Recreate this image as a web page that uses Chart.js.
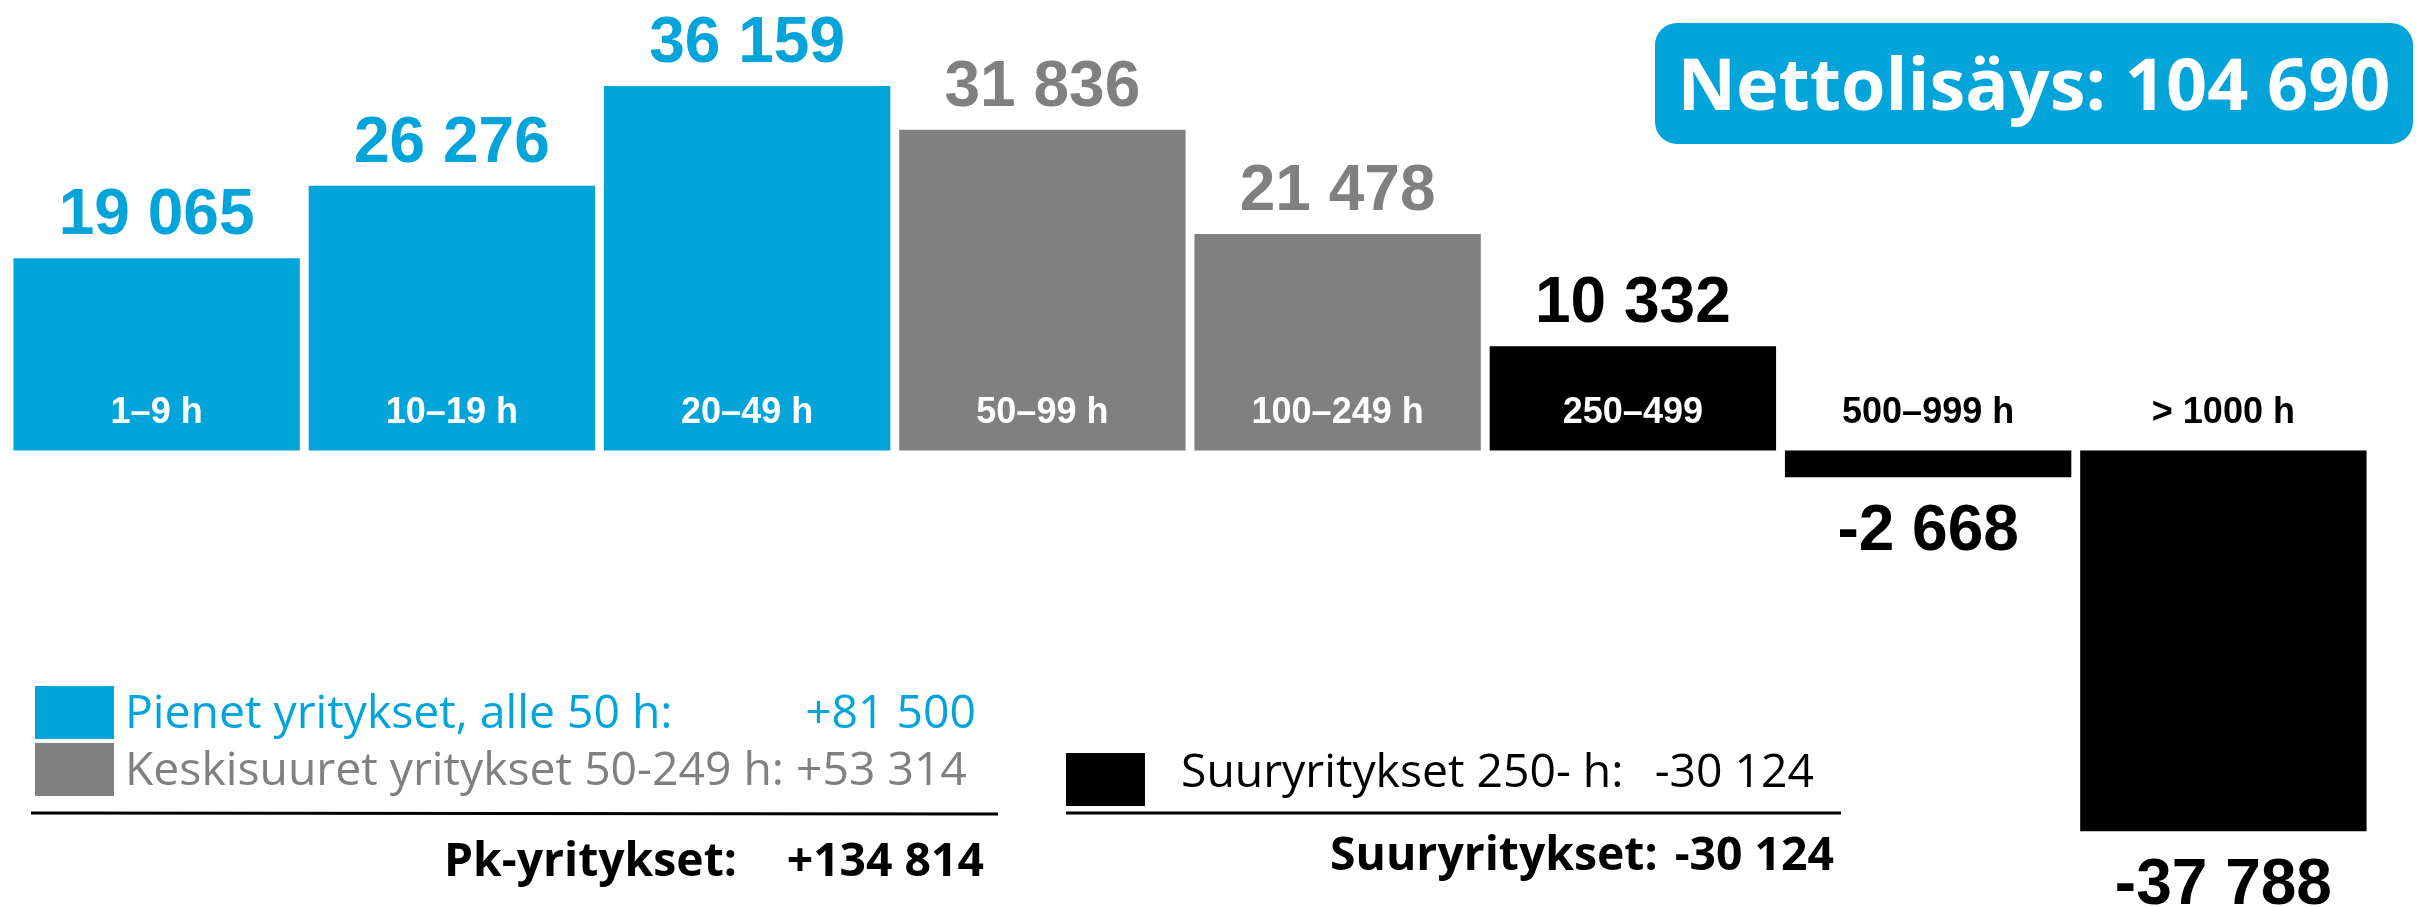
<!DOCTYPE html>
<html lang="fi">
<head>
<meta charset="utf-8">
<title>Nettolisäys henkilöstön kokoluokittain</title>
<script src="https://cdn.jsdelivr.net/npm/chart.js@4/dist/chart.umd.min.js"></script>
<style>
  html, body { margin: 0; padding: 0; background: #fff; }
  #wrap { width: 2418px; height: 907px; position: relative; }
</style>
</head>
<body>
<div id="wrap"><canvas id="chart"></canvas></div>
<script>
// data
const categories = ["1–9 h", "10–19 h", "20–49 h", "50–99 h", "100–249 h", "250–499", "500–999 h", "> 1000 h"];
const netChange = [19065, 26276, 36159, 31836, 21478, 10332, -2668, -37788];
const sizeGroup = ["small", "small", "small", "medium", "medium", "large", "large", "large"];
const groupLabels = {
  small: "Pienet yritykset, alle 50 h:",
  medium: "Keskisuuret yritykset 50-249 h:",
  large: "Suuryritykset 250- h:",
};
const totalLabels = { sme: "Pk-yritykset:", large: "Suuryritykset:", net: "Nettolisäys:" };

const COLORS = { small: "#03A4DA", medium: "#808080", large: "#000000" };
const BAR_FONT = "'Liberation Sans', Arial, sans-serif";
const TEXT_FONT = "'Open Sans', sans-serif";

const fmt = (n, plus) => {
  const s = Math.abs(n).toString().replace(/\B(?=(\d{3})+(?!\d))/g, " ");
  return (n < 0 ? "-" : plus ? "+" : "") + s;
};
const sumOf = g => netChange.reduce((a, v, i) => a + (sizeGroup[i] === g ? v : 0), 0);
const sums = { small: sumOf("small"), medium: sumOf("medium"), large: sumOf("large") };
const smeTotal = sums.small + sums.medium;
const netTotal = netChange.reduce((a, v) => a + v, 0);

/* value labels above / below bars, category labels near the zero line */
const barLabels = {
  id: "barLabels",
  afterDatasetsDraw(chart) {
    const { ctx } = chart;
    const meta = chart.getDatasetMeta(0);
    ctx.save();
    ctx.textAlign = "center";
    ctx.textBaseline = "alphabetic";
    meta.data.forEach((el, i) => {
      const v = netChange[i];
      ctx.font = "bold 64px " + BAR_FONT;
      ctx.fillStyle = COLORS[sizeGroup[i]];
      if (v >= 0) ctx.fillText(fmt(v), el.x, el.y - 24);
      else ctx.fillText(fmt(v), el.x, el.y + 73);
      ctx.font = "bold 36px " + BAR_FONT;
      ctx.fillStyle = v >= 0 ? "#fff" : "#000";
      ctx.fillText(categories[i], el.x, el.base - 27);
    });
    ctx.restore();
  },
};

/* title box and the summary legend */
const summary = {
  id: "summary",
  afterDraw(chart) {
    const { ctx } = chart;
    ctx.save();
    ctx.textBaseline = "alphabetic";

    // net total box
    ctx.fillStyle = COLORS.small;
    ctx.beginPath();
    ctx.roundRect(1655, 23, 758, 121, 22);
    ctx.fill();
    ctx.fillStyle = "#fff";
    ctx.font = "bold 72px " + TEXT_FONT;
    ctx.textAlign = "center";
    ctx.fillText(totalLabels.net + " " + fmt(netTotal), 2034, 110);

    // legend font sized so the grey row spans like the reference (~842px)
    const greyRow = groupLabels.medium + " " + fmt(sums.medium, true);
    ctx.font = "46px " + TEXT_FONT;
    const size = Math.min(48, 46 * 842 / ctx.measureText(greyRow).width);
    ctx.font = size.toFixed(1) + "px " + TEXT_FONT;

    ctx.fillStyle = COLORS.small;
    ctx.fillRect(35, 686, 79, 53);
    ctx.textAlign = "left";
    ctx.fillText(groupLabels.small, 125, 728);
    ctx.textAlign = "right";
    ctx.fillText(fmt(sums.small, true), 976, 728);

    ctx.fillStyle = COLORS.medium;
    ctx.fillRect(35, 743, 79, 53);
    ctx.textAlign = "left";
    ctx.fillText(greyRow, 125, 785);

    ctx.fillStyle = COLORS.large;
    ctx.fillRect(1066, 753, 79, 53);
    ctx.fillText(groupLabels.large, 1181, 787);
    ctx.textAlign = "right";
    ctx.fillText(fmt(sums.large), 1814, 787);

    // rules
    ctx.strokeStyle = "#000";
    ctx.lineWidth = 3;
    ctx.beginPath();
    ctx.moveTo(31, 813); ctx.lineTo(998, 814);
    ctx.moveTo(1066, 813); ctx.lineTo(1841, 813);
    ctx.stroke();

    // totals
    ctx.fillStyle = "#000";
    ctx.font = "bold " + size.toFixed(1) + "px " + TEXT_FONT;
    ctx.textAlign = "left";
    ctx.fillText(totalLabels.sme, 444, 876);
    ctx.textAlign = "right";
    ctx.fillText(fmt(smeTotal, true), 984, 876);
    ctx.textAlign = "left";
    ctx.fillText(totalLabels.large, 1330, 870);
    ctx.textAlign = "right";
    ctx.fillText(fmt(sums.large), 1834, 870);
    ctx.restore();
  },
};

new Chart(document.getElementById("chart"), {
  type: "bar",
  data: {
    labels: categories,
    datasets: [{
      data: netChange,
      backgroundColor: sizeGroup.map(g => COLORS[g]),
      borderWidth: 0,
      barPercentage: 0.97,
      categoryPercentage: 1,
    }],
  },
  options: {
    responsive: true,
    maintainAspectRatio: false,
    animation: false,
    layout: { padding: { left: 9, right: 47, top: 0, bottom: 0 } },
    plugins: { legend: { display: false }, tooltip: { enabled: false } },
    scales: {
      x: { display: false },
      y: { display: false, min: -45300, max: 44700 },
    },
  },
  plugins: [barLabels, summary],
});
</script>
</body>
</html>
